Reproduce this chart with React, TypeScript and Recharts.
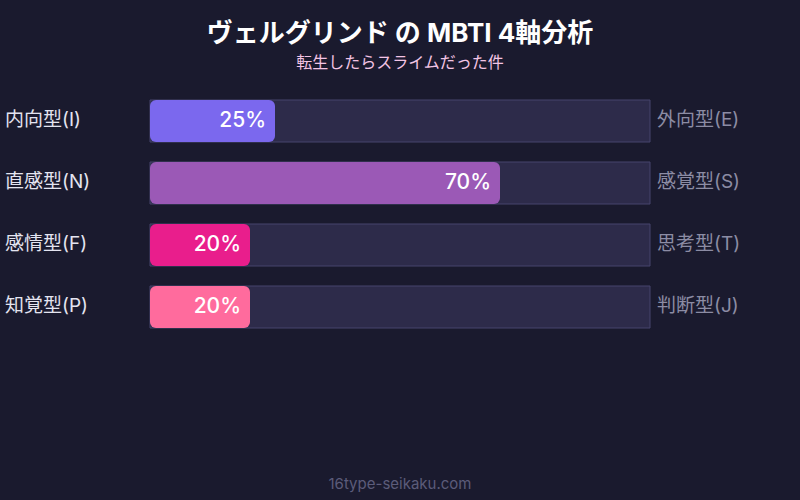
import React from 'react';
import { BarChart, Bar, XAxis, YAxis, Cell, LabelList } from 'recharts';

const leftLabels = ['内向型(I)', '直感型(N)', '感情型(F)', '知覚型(P)'];
const rightLabels = ['外向型(E)', '感覚型(S)', '思考型(T)', '判断型(J)'];
const values = [25, 70, 20, 20];
const barColors = ['#7b68ee', '#9b59b6', '#e91e8c', '#ff6b9d'];

const data = leftLabels.map((left, i) => ({
  left,
  right: rightLabels[i],
  value: values[i],
}));

const FONT = "Inter, 'Noto Sans CJK JP', sans-serif";

const LeftTick = ({ y, payload }: any) => (
  <text x={5} y={y} dy={5} fill="#e4e4f0" fontSize={19} fontFamily={FONT} textAnchor="start">
    {payload.value}
  </text>
);

const RightTick = ({ x, y, payload }: any) => (
  <text x={x - 1} y={y} dy={5} fill="#8c8ca4" fontSize={19} fontFamily={FONT} textAnchor="start">
    {payload.value}
  </text>
);

const ValueLabel = ({ x, y, width, height, value }: any) => (
  <text
    x={x + width - 9}
    y={y + height / 2}
    dy={6}
    fill="#ffffff"
    fontSize={21}
    fontWeight={500}
    fontFamily={FONT}
    textAnchor="end"
  >
    {`${value}%`}
  </text>
);

export default function App() {
  return (
    <div
      style={{
        position: 'fixed',
        top: 0,
        left: 0,
        width: 800,
        height: 500,
        background: '#1a1a2e',
        fontFamily: FONT,
      }}
    >
      <div
        style={{
          position: 'absolute',
          top: 12,
          width: 800,
          textAlign: 'center',
          color: '#ffffff',
          fontSize: 26,
          fontWeight: 700,
        }}
      >
        ヴェルグリンド の MBTI 4軸分析
      </div>
      <div
        style={{
          position: 'absolute',
          top: 49,
          width: 800,
          textAlign: 'center',
          color: '#f3c4e4',
          fontSize: 16,
        }}
      >
        転生したらスライムだった件
      </div>
      <BarChart
        width={800}
        height={500}
        data={data}
        layout="vertical"
        margin={{ top: 90, right: 149, left: 149, bottom: 162 }}
        barCategoryGap={10}
      >
        <XAxis type="number" domain={[0, 100]} hide />
        <YAxis
          yAxisId="left"
          type="category"
          dataKey="left"
          width={1}
          axisLine={false}
          tickLine={false}
          tick={<LeftTick />}
        />
        <YAxis
          yAxisId="right"
          orientation="right"
          type="category"
          dataKey="right"
          width={1}
          axisLine={false}
          tickLine={false}
          tick={<RightTick />}
        />
        <Bar
          yAxisId="left"
          dataKey="value"
          radius={6}
          isAnimationActive={false}
          background={{ fill: '#2d2b4a', stroke: '#47456c', strokeWidth: 1 }}
        >
          {data.map((_d, i) => (
            <Cell key={i} fill={barColors[i]} />
          ))}
          <LabelList dataKey="value" content={<ValueLabel />} />
        </Bar>
      </BarChart>
      <div
        style={{
          position: 'absolute',
          top: 474,
          width: 800,
          textAlign: 'center',
          color: '#5c5c7a',
          fontSize: 15,
        }}
      >
        16type-seikaku.com
      </div>
    </div>
  );
}
